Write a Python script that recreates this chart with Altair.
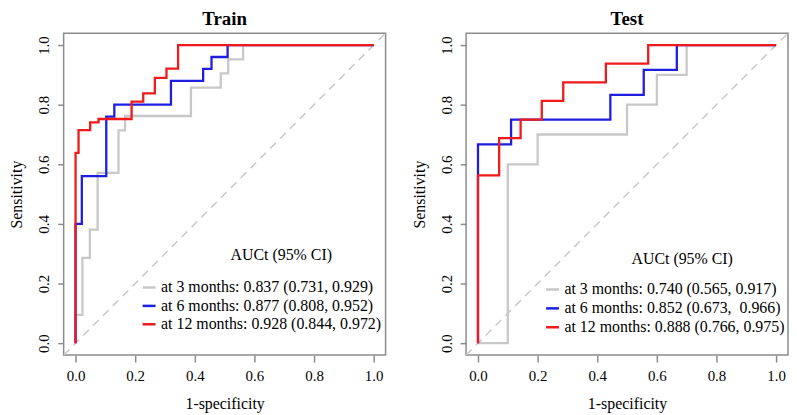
import altair as alt
import pandas as pd

# ---------------- data ----------------
panel_titles = ["Train", "Test"]
series_names = ["at 3 months:", "at 6 months:", "at 12 months:"]
series_colors = ["#c8c8c8", "#1e1ee0", "#f01a1a"]
legend_heading = "AUCt (95% CI)"

train_auc = ["0.837 (0.731, 0.929)", "0.877 (0.808, 0.952)", "0.928 (0.844, 0.972)"]
test_auc = ["0.740 (0.565, 0.917)", "0.852 (0.673,\u00a0 0.966)", "0.888 (0.766, 0.975)"]

# step points: at x the curve jumps up to y (step-after)
train_3m_x = [0, 0, 0.023, 0.048, 0.074, 0.144, 0.166, 0.387, 0.487, 0.512, 0.562, 1.0]
train_3m_y = [0, 0.095, 0.286, 0.381, 0.571, 0.714, 0.762, 0.857, 0.905, 0.952, 1.0, 1.0]
train_6m_x = [0, 0, 0.021, 0.103, 0.130, 0.320, 0.428, 0.456, 0.510, 1.0]
train_6m_y = [0, 0.40, 0.56, 0.76, 0.80, 0.88, 0.92, 0.96, 1.0, 1.0]
train_12m_x = [0, 0, 0.010, 0.049, 0.077, 0.188, 0.227, 0.266, 0.305, 0.344, 1.0]
train_12m_y = [0, 0.638, 0.715, 0.741, 0.752, 0.810, 0.838, 0.890, 0.921, 1.0, 1.0]

test_3m_x = [0, 0.10, 0.20, 0.50, 0.60, 0.70, 1.0]
test_3m_y = [0, 0.60, 0.70, 0.80, 0.90, 1.0, 1.0]
test_6m_x = [0, 0, 0.111, 0.444, 0.556, 0.667, 1.0]
test_6m_y = [0, 0.667, 0.75, 0.833, 0.917, 1.0, 1.0]
test_12m_x = [0, 0, 0.071, 0.143, 0.214, 0.286, 0.429, 0.571, 1.0]
test_12m_y = [0, 0.5625, 0.6875, 0.75, 0.8125, 0.875, 0.9375, 1.0, 1.0]

# where the legend heading sits, in data units of each panel
train_heading_xy = [0.69, 0.297]
test_heading_xy = [0.685, 0.283]

axis_ticks = [0.0, 0.2, 0.4, 0.6, 0.8, 1.0]
axis_limits = [-0.04, 1.04]

FONT = "Liberation Serif"
GREY = "#8c8c8c"


def panel(title, xs_list, ys_list, aucs, heading_xy, legend_x, legend_y, row_pad):
    labels = [f"{n} {a}" for n, a in zip(series_names, aucs)]
    rows = []
    for lab, xs, ys in zip(labels, xs_list, ys_list):
        for i, (x, y) in enumerate(zip(xs, ys)):
            rows.append({"x": x, "y": y, "series": lab, "idx": i})
    df = pd.DataFrame(rows)

    xscale = alt.Scale(domain=axis_limits, nice=False, zero=False)
    yscale = alt.Scale(domain=axis_limits, nice=False, zero=False)
    xaxis = alt.Axis(values=axis_ticks, format=".1f", title="1-specificity",
                     grid=False, domain=False, tickColor=GREY, tickWidth=1.5,
                     tickSize=7, labelPadding=7, labelFont=FONT, labelFontSize=15,
                     labelColor="black", titleFont=FONT, titleFontSize=16,
                     titleFontWeight="normal", titleColor="black", titlePadding=12,
                     labelFlush=False)
    yaxis = alt.Axis(values=axis_ticks, format=".1f", title="Sensitivity",
                     grid=False, domain=False, tickColor=GREY, tickWidth=1.5,
                     tickSize=6, labelPadding=6, labelFont=FONT, labelFontSize=15,
                     labelColor="black", labelAngle=270, labelAlign="center",
                     labelBaseline="bottom", titleFont=FONT, titleFontSize=16,
                     titleFontWeight="normal", titleColor="black", titlePadding=12,
                     labelFlush=False)

    diag = pd.DataFrame({"x": axis_limits, "y": axis_limits})
    diag_line = alt.Chart(diag).mark_line(
        color="#c8c8c8", strokeDash=[8, 6], strokeWidth=1.5, clip=True
    ).encode(
        x=alt.X("x:Q", scale=xscale, axis=xaxis),
        y=alt.Y("y:Q", scale=yscale, axis=yaxis),
    )

    legend = alt.Legend(
        title=None, orient="none",
        legendX=legend_x, legendY=legend_y, symbolType="stroke",
        symbolStrokeWidth=2.5, symbolSize=169, labelFont=FONT, labelFontSize=16,
        labelColor="black", labelLimit=500, labelOffset=4, rowPadding=row_pad,
        padding=0,
    )
    curves = alt.Chart(df).mark_line(
        interpolate="step-after", strokeWidth=2.3, clip=True
    ).encode(
        x=alt.X("x:Q", scale=xscale, axis=xaxis),
        y=alt.Y("y:Q", scale=yscale, axis=yaxis),
        color=alt.Color("series:N", scale=alt.Scale(domain=labels, range=series_colors),
                        sort=labels, legend=legend),
        order="idx:Q",
    )

    head = pd.DataFrame({"x": [heading_xy[0]], "y": [heading_xy[1]], "t": [legend_heading]})
    heading = alt.Chart(head).mark_text(
        font=FONT, fontSize=16, color="black", align="center", baseline="middle"
    ).encode(
        x=alt.X("x:Q", scale=xscale, axis=xaxis),
        y=alt.Y("y:Q", scale=yscale, axis=yaxis),
        text="t:N",
    )

    return alt.layer(diag_line, curves, heading).properties(
        width=324, height=324,
        title=alt.TitleParams(title, font=FONT, fontSize=19, fontWeight="bold",
                              color="black", offset=4, anchor="middle"),
    )


left = panel(panel_titles[0], [train_3m_x, train_6m_x, train_12m_x],
             [train_3m_y, train_6m_y, train_12m_y], train_auc, train_heading_xy,
             78, 248, 2.5)
right = panel(panel_titles[1], [test_3m_x, test_6m_x, test_12m_x],
              [test_3m_y, test_6m_y, test_12m_y], test_auc, test_heading_xy,
              79, 250, 3)

chart = alt.hconcat(left, right, spacing=24).resolve_scale(
    color="independent"
).resolve_legend(color="independent").properties(
    padding={"left": 0, "top": 0, "right": 0, "bottom": 0}
).configure_view(stroke=GREY, strokeWidth=1.5)

chart.save("out.html", embed_options={"renderer": "svg", "actions": False})
